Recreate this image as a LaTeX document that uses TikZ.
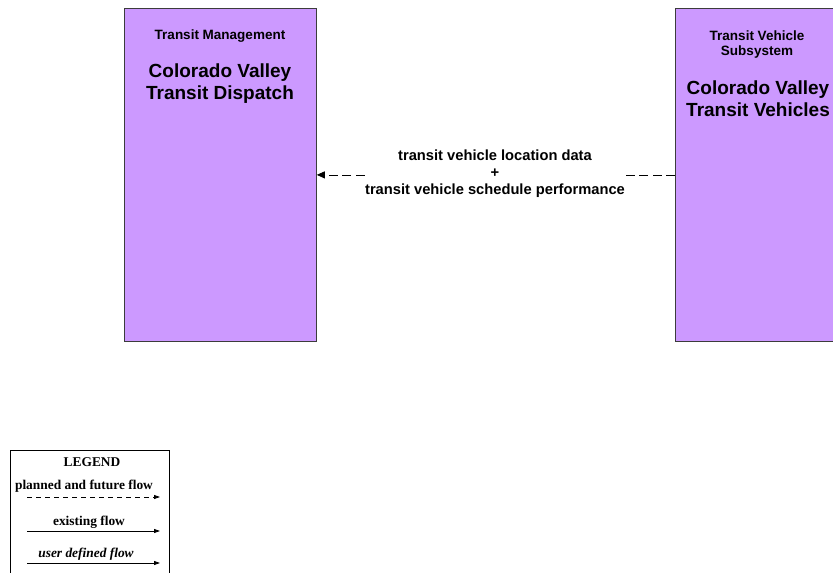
\documentclass[tikz,border=0pt]{standalone}
\usepackage{fontspec}
\setmainfont{Liberation Serif}
\newfontfamily\arialfont{Liberation Sans}
\usetikzlibrary{arrows.meta,positioning}
\definecolor{sysfill}{RGB}{204,153,255}
\definecolor{sysedge}{RGB}{60,60,60}
\tikzset{
  sysbox/.style={draw=sysedge, line width=0.8pt, fill=sysfill, anchor=north west, inner sep=0pt},
  classlbl/.style={font=\arialfont\bfseries\fontsize{13.5}{15}\selectfont, align=center, inner sep=0pt},
  namelbl/.style={font=\arialfont\bfseries\fontsize{19}{22}\selectfont, align=center, inner sep=0pt},
  flowlbl/.style={font=\arialfont\bfseries\fontsize{14.7}{17}\selectfont, align=center, fill=white, inner sep=0pt},
  flowline/.style={line width=0.8pt, dash pattern=on 9pt off 4.5pt, -{Triangle[length=8pt,width=7pt]}},
  legtxt/.style={font=\bfseries\fontsize{13.4}{15}\selectfont, inner sep=0pt},
  legarrow/.style={line width=0.8pt, -{Triangle[length=6pt,width=4pt]}}
}
\begin{document}
\begin{tikzpicture}[x=1pt,y=-1pt]
  \useasboundingbox (0,0) rectangle (833,573);
  % subsystems
  \node[sysbox, minimum width=192pt, minimum height=333pt] (dispatch) at (124,8) {};
  \node[sysbox, minimum width=166pt, minimum height=333pt] (vehicles) at (675,8) {};
  \node[classlbl] (dispatchcls) at (220,36) {Transit Management};
  \node[namelbl] (dispatchname) at (220,84) {Colorado Valley\\Transit Dispatch};
  \node[classlbl] (vehiclescls) at (757,45) {Transit Vehicle\\Subsystem};
  \node[namelbl] (vehiclesname) at (758,99) {Colorado Valley\\Transit Vehicles};
  % flow
  \draw[flowline] (vehicles.west) -- (dispatch.east);
  \node[flowlbl] (flowtxt) at (495,174) {transit vehicle location data\\+\\transit vehicle schedule performance};
  % legend
  \node[draw, line width=0.8pt, anchor=north west, minimum width=159pt, minimum height=140pt, inner sep=0pt] (legend) at (10,450) {};
  \node[legtxt] (legtitle) at (92,462) {LEGEND};
  \node[legtxt] (legplanned) at (84,486) {planned and future flow};
  \node[legtxt] (legexisting) at (89,522) {existing flow};
  \node[legtxt, font=\bfseries\itshape\fontsize{13.4}{15}\selectfont] (leguser) at (86,554) {user defined flow};
  \coordinate (plannedA) at (27,497);
  \coordinate (plannedB) at (160,497);
  \coordinate (existingA) at (27,531);
  \coordinate (existingB) at (160,531);
  \coordinate (userA) at (27,563);
  \coordinate (userB) at (160,563);
  \draw[legarrow, dash pattern=on 5pt off 4pt] (plannedA) -- (plannedB);
  \draw[legarrow] (existingA) -- (existingB);
  \draw[legarrow] (userA) -- (userB);
\end{tikzpicture}
\end{document}
